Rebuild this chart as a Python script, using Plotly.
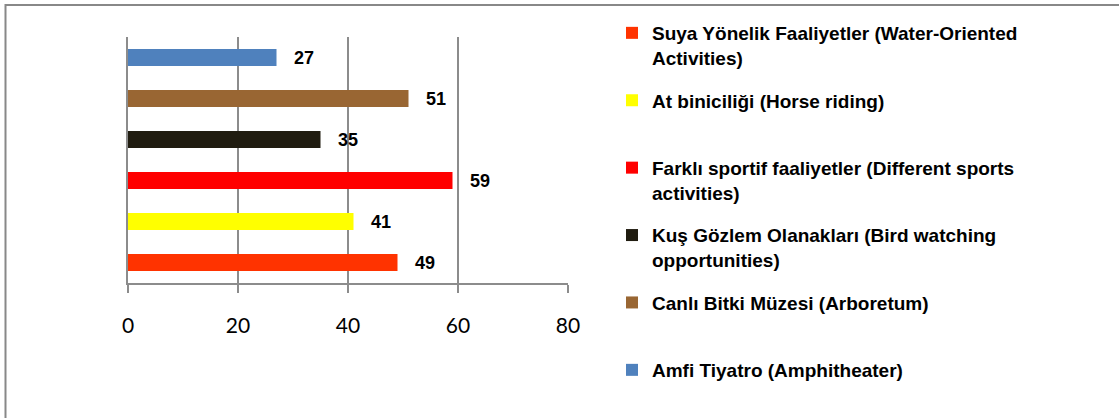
import plotly.graph_objects as go

categories = [
    "Suya Yönelik Faaliyetler",
    "At biniciliği",
    "Farklı sportif faaliyetler",
    "Kuş Gözlem Olanakları",
    "Canlı Bitki Müzesi",
    "Amfi Tiyatro",
]
legend_names = [
    "Suya Yönelik Faaliyetler (Water-Oriented<br>Activities)",
    "At biniciliği (Horse riding)<br>\u00a0",
    "Farklı sportif faaliyetler (Different sports<br>activities)",
    "Kuş Gözlem Olanakları (Bird watching<br>opportunities)",
    "Canlı Bitki Müzesi (Arboretum)<br>\u00a0",
    "Amfi Tiyatro (Amphitheater)<br>\u00a0",
]
values = [49, 41, 59, 35, 51, 27]
colors = ["#FF3300", "#FFFF00", "#FF0000", "#201C10", "#996633", "#4F81BD"]
x_ticks = [0, 20, 40, 60, 80]

GRID = "#8C8C8C"

fig = go.Figure()
for cat, name, val, col in zip(categories, legend_names, values, colors):
    fig.add_trace(go.Bar(
        y=[cat], x=[val], name=name, orientation="h",
        marker=dict(color=col, line=dict(width=0)),
        width=0.42, legendgroup=cat,
    ))

for cat, val in zip(categories, values):
    fig.add_annotation(
        x=val, y=cat, text=str(val), showarrow=False,
        xanchor="left", yanchor="middle", xshift=15,
        font=dict(family="Liberation Sans, Arial", size=18, color="black", weight="bold"),
    )

W, H = 1119, 418
L, R, T, B = 128, 1119 - 568, 37, 418 - 283
pw, ph = W - L - R, H - T - B

def px_x(p):
    return (p - L) / pw

def px_y(p):
    return (H - B - p) / ph

fig.add_shape(
    type="rect", xref="paper", yref="paper",
    x0=px_x(5.5), x1=px_x(1135), y0=px_y(440), y1=px_y(5),
    line=dict(color="#888888", width=2), fillcolor="rgba(0,0,0,0)", layer="below",
)

fig.update_layout(
    width=W, height=H,
    margin=dict(l=L, r=R, t=T, b=B, pad=0),
    paper_bgcolor="white", plot_bgcolor="white",
    barmode="overlay",
    showlegend=True,
    legend=dict(
        x=px_x(612), y=px_y(14), xanchor="left", yanchor="top",
        font=dict(family="Liberation Sans, Arial", size=19, color="black", weight="bold"),
        valign="top", tracegroupgap=15, traceorder="grouped",
        bgcolor="rgba(0,0,0,0)", borderwidth=0, maxheight=420,
    ),
    xaxis=dict(
        range=[0, 80], tickvals=x_ticks, ticktext=[str(t) for t in x_ticks],
        showgrid=True, gridcolor=GRID, gridwidth=2,
        showline=True, linecolor=GRID, linewidth=2,
        ticks="outside", ticklen=8, tickwidth=2, tickcolor=GRID,
        tickfont=dict(family="Lato", size=21, color="black"),
        ticklabelstandoff=15, zeroline=False,
    ),
    yaxis=dict(
        categoryorder="array", categoryarray=categories,
        range=[-0.5, 5.5], showticklabels=False, ticks="",
        showgrid=False, showline=True, linecolor=GRID, linewidth=2,
        zeroline=False,
    ),
)

fig.write_html(
    "out.html",
    config={"displayModeBar": False},
    post_script="document.body.style.margin='0px';document.body.style.overflow='hidden';",
)
